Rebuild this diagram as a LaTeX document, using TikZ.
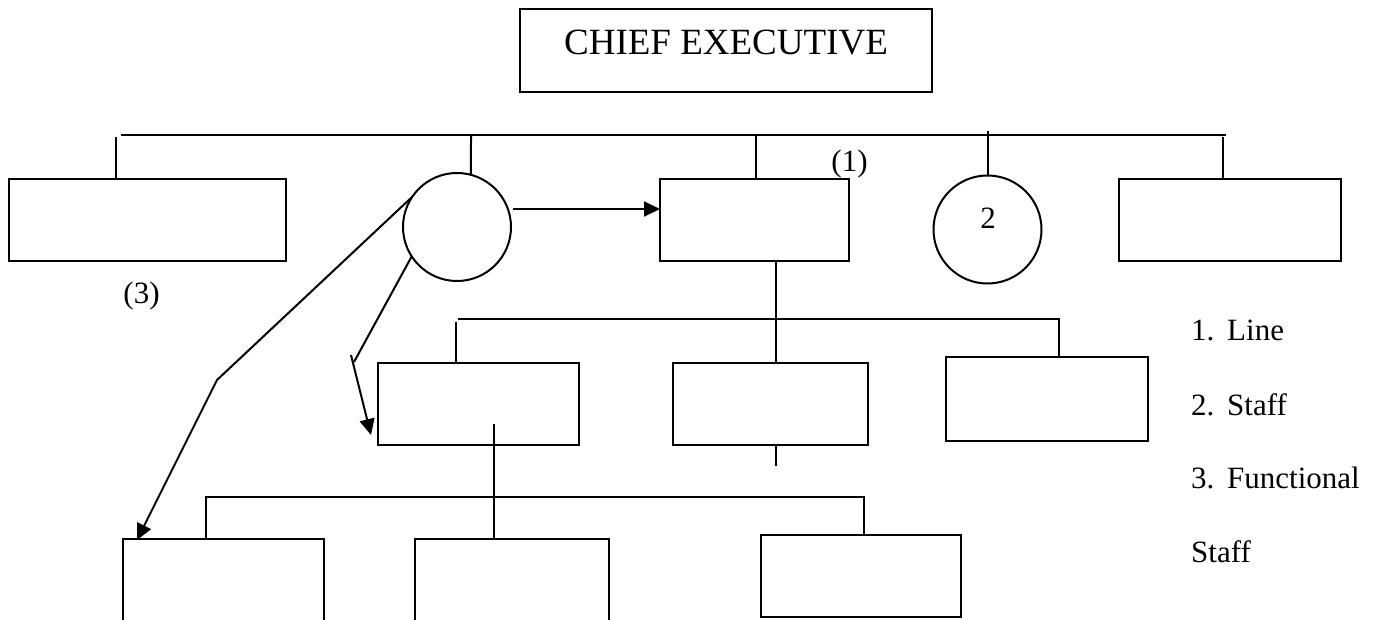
\documentclass[tikz,border=0pt]{standalone}
\usepackage{fontspec}
\setmainfont{Liberation Serif}
\usetikzlibrary{arrows.meta}
\begin{document}
\begin{tikzpicture}[x=1pt,y=-1pt,
  box/.style={draw, line width=2pt, rectangle, inner sep=0pt, outer sep=0pt},
  ring/.style={draw, line width=2pt, circle, inner sep=0pt, outer sep=0pt, minimum size=108pt},
  conn/.style={line width=2pt},
  arr/.style={line width=2pt, -{Triangle[length=16pt,width=15pt]}},
  txt/.style={font=\fontsize{31}{37}\selectfont, inner sep=0pt, anchor=base}]
\useasboundingbox (0,0) rectangle (1377,620);
\clip (0,0) rectangle (1377,620);

% top
\node[box, minimum width=412pt, minimum height=83pt] (chief) at (726,50.5) {};
\node[txt, font=\fontsize{37}{44}\selectfont] (chieftxt) at (726,55) {CHIEF EXECUTIVE};

% first level
\node[box, minimum width=277pt, minimum height=82pt] (lbox) at (147.5,220) {};
\node[ring] (c1) at (457,227) {};
\node[box, minimum width=189pt, minimum height=82pt] (b1) at (754.5,220) {};
\node[ring] (c2) at (987.5,229.5) {};
\node[txt] (two) at (988,229) {2};
\node[box, minimum width=222pt, minimum height=82pt] (rbox) at (1230,220) {};
\node[txt] (lab1) at (849.5,171.5) {(1)};
\node[txt] (lab3) at (141.5,303.5) {(3)};

% second level
\node[box, minimum width=201pt, minimum height=82pt] (mA) at (478.5,404) {};
\node[box, minimum width=195pt, minimum height=82pt] (mB) at (770.5,404) {};
\node[box, minimum width=202pt, minimum height=84pt] (mC) at (1047,399) {};

% third level
\node[box, minimum width=201pt, minimum height=160pt] (bA) at (223.5,619) {};
\node[box, minimum width=194pt, minimum height=160pt] (bB) at (512,619) {};
\node[box, minimum width=200pt, minimum height=82pt] (bC) at (861,576) {};

% top bus
\coordinate (t0) at (121,135);
\coordinate (t1) at (1226,135);
\draw[conn] (t0) -- (t1);
\coordinate (d1) at (116,137);
\draw[conn] (d1) -- (d1 |- lbox.north);
\coordinate (d2) at (471,135);
\draw[conn] (d2) -- (c1.75);
\coordinate (d3) at (756,135);
\draw[conn] (d3) -- (d3 |- b1.north);
\coordinate (d4) at (987.5,131);
\draw[conn] (d4) -- (c2.north);
\coordinate (d5) at (1223,137);
\draw[conn] (d5) -- (d5 |- rbox.north);

% arrows from circle
\coordinate (h0) at (513,209);
\draw[arr] (h0) -- (h0 -| b1.west);
\coordinate (k1) at (217,380);
\coordinate (k2) at (137,540);
\draw[arr] (c1.146) -- (k1) -- (k2);
\coordinate (s1) at (354,362);
\coordinate (s2) at (351,355);
\coordinate (s3) at (371,435);
\draw[conn] (c1.213) -- (s1);
\draw[arr] (s2) -- (s3);

% second bus
\draw[conn] ([xshift=21pt]b1.south) -- ([xshift=5pt]mB.north);
\coordinate (m0) at (458,319);
\coordinate (m1) at (1059,319);
\draw[conn] (m0) -- (m1) -- (m1 |- mC.north);
\coordinate (m2) at (456,322);
\draw[conn] (m2) -- (m2 |- mA.north);
\coordinate (st) at (775.5,466);
\draw[conn] ([xshift=5pt]mB.south) -- (st);

% third bus
\coordinate (u0) at (494,424);
\draw[conn] (u0) -- (u0 |- bB.north);
\coordinate (w0) at (206,497);
\coordinate (w1) at (864,497);
\draw[conn] (w0 |- bA.north) -- (w0) -- (w1) -- (w1 |- bC.north);

% legend
\node[txt, anchor=base west] (lg1) at (1191,341) {\makebox[36pt][l]{1.}Line};
\node[txt, anchor=base west] (lg2) at (1191,415) {\makebox[36pt][l]{2.}Staff};
\node[txt, anchor=base west] (lg3) at (1191,488) {\makebox[36pt][l]{3.}Functional};
\node[txt, anchor=base west] (lg4) at (1191,562) {Staff};
\end{tikzpicture}
\end{document}
